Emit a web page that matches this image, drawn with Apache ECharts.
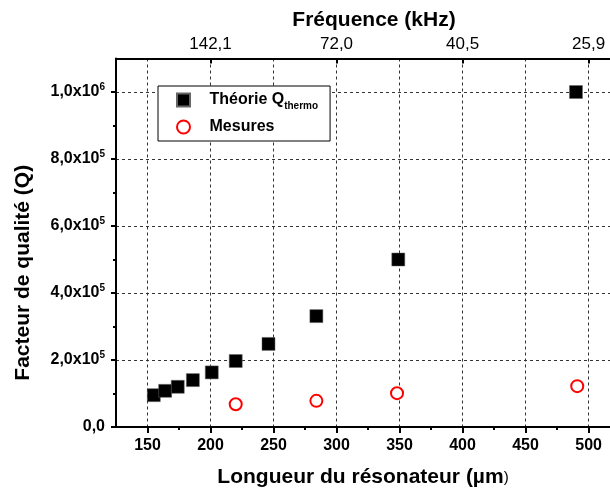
<!DOCTYPE html>
<html>
<head>
<meta charset="utf-8">
<script src="https://cdn.jsdelivr.net/npm/echarts@6/dist/echarts.min.js"></script>
<style>html,body{margin:0;padding:0;background:#fff}#c{width:610px;height:498px}</style>
</head>
<body>
<div id="c"></div>
<script>
// ---- data ----
const thermoLengths = [155, 164, 174, 186, 201, 220, 246, 284, 349, 490];
const thermoQ = [95000, 108000, 120000, 140000, 163000, 197000, 248000, 331000, 500000, 1000000];
const measLengths = [220, 284, 348, 491];
const measQ = [68000, 78000, 101000, 122000];
const bottomMajor = [150, 200, 250, 300, 350, 400, 450, 500];
const bottomMinor = [175, 225, 275, 325, 375, 425, 475];
const topMajor = [200, 300, 400, 500];
const topMinor = [150, 250, 350, 450];
const topLabels = ['142,1', '72,0', '40,5', '25,9'];
const yMajor = [0, 200000, 400000, 600000, 800000, 1000000];
const yMinor = [100000, 300000, 500000, 700000, 900000];
const xMin = 125, xMax = 517, yMin = 0, yMax = 1100000;

const FONT = '"Liberation Sans", Arial, sans-serif';
const black = '#000';

function yFmt(v) {
  if (v === 0) return '{a|0,0}';
  const e = Math.floor(Math.log10(v) + 1e-9);
  const m = (v / Math.pow(10, e)).toFixed(1).replace('.', ',');
  return '{a|' + m + 'x10}{s|' + e + '}';
}

const chart = echarts.init(document.getElementById('c'), null, {renderer: 'canvas'});
const baseX = {type: 'value', min: xMin, max: xMax, gridIndex: 0};
const baseY = {type: 'value', min: yMin, max: yMax, gridIndex: 0};
const dashed = {show: true, lineStyle: {color: '#333', width: 1, type: [3, 3]}};

chart.setOption({
  animation: false,
  backgroundColor: '#fff',
  textStyle: {fontFamily: FONT},
  grid: {left: 116, right: 0, top: 58.5, bottom: 71, containLabel: false},
  legend: {
    orient: 'vertical', left: 158, top: 86,
    backgroundColor: '#fff', borderColor: black, borderWidth: 1,
    padding: [5, 12, 6, 18], itemGap: 8, itemWidth: 42, itemHeight: 13,
    symbolKeepAspect: true,
    data: [
      {name: 'Théorie', icon: 'path://M0,0H10V10H0Z'},
      {name: 'Mesures'}
    ],
    formatter: function (n) { return n === 'Théorie' ? '{a|Théorie Q}{s|thermo}' : '{a|Mesures}'; },
    textStyle: {
      fontFamily: FONT,
      rich: {
        a: {fontSize: 16, fontWeight: 'bold', color: black, fontFamily: FONT, lineHeight: 22},
        s: {fontSize: 10, fontWeight: 'bold', color: black, fontFamily: FONT, verticalAlign: 'bottom', lineHeight: 12, padding: [10, 0, 0, 0]}
      }
    }
  },
  xAxis: [
    Object.assign({}, baseX, {
      position: 'bottom',
      name: '{b|Longueur du résonateur (µm}{c|)}', nameLocation: 'middle', nameGap: 40,
      nameTextStyle: {rich: {
        b: {fontSize: 21, fontWeight: 'bold', color: black, fontFamily: FONT},
        c: {fontSize: 15, color: black, fontFamily: FONT}
      }},
      axisLine: {show: true, onZero: false, lineStyle: {color: black, width: 2}},
      axisTick: {show: true, inside: false, length: 6, customValues: bottomMajor, lineStyle: {color: black, width: 2}},
      axisLabel: {show: true, customValues: bottomMajor, margin: 11, fontSize: 16, fontWeight: 'bold', color: black, fontFamily: FONT},
      splitLine: dashed
    }),
    Object.assign({}, baseX, {
      position: 'bottom',
      axisLine: {show: false},
      axisTick: {show: true, inside: false, length: 3, customValues: bottomMinor, lineStyle: {color: black, width: 2}},
      axisLabel: {show: false},
      splitLine: {show: false}
    }),
    Object.assign({}, baseX, {
      position: 'top',
      name: 'Fréquence (kHz)', nameLocation: 'middle', nameGap: 28,
      nameTextStyle: {fontSize: 21, fontWeight: 'bold', color: black, fontFamily: FONT, padding: [0, 0, 0, 22]},
      axisLine: {show: true, onZero: false, lineStyle: {color: black, width: 2}},
      axisTick: {show: true, inside: true, length: 5, customValues: topMajor, lineStyle: {color: black, width: 2}},
      axisLabel: {show: true, customValues: topMajor, margin: 6, fontSize: 17, color: black, fontFamily: FONT,
        formatter: function (v) { const i = topMajor.indexOf(v); return i >= 0 ? topLabels[i] : ''; }},
      splitLine: {show: false}
    }),
    Object.assign({}, baseX, {
      position: 'top',
      axisLine: {show: false},
      axisTick: {show: true, inside: true, length: 3, customValues: topMinor, lineStyle: {color: black, width: 2}},
      axisLabel: {show: false},
      splitLine: {show: false}
    })
  ],
  yAxis: [
    Object.assign({}, baseY, {
      position: 'left',
      name: 'Facteur de qualité (Q)', nameLocation: 'middle', nameGap: 82, nameRotate: 90,
      nameTextStyle: {fontSize: 21, fontWeight: 'bold', color: black, fontFamily: FONT, padding: [0, 60, 0, 0]},
      axisLine: {show: true, onZero: false, lineStyle: {color: black, width: 2}},
      axisTick: {show: true, inside: false, length: 5, customValues: yMajor, lineStyle: {color: black, width: 2}},
      axisLabel: {show: true, customValues: yMajor, margin: 11, formatter: yFmt,
        rich: {
          a: {fontSize: 16, fontWeight: 'bold', color: black, fontFamily: FONT, lineHeight: 20},
          s: {fontSize: 10, fontWeight: 'bold', color: black, fontFamily: FONT, verticalAlign: 'top', lineHeight: 12}
        }},
      splitLine: dashed
    }),
    Object.assign({}, baseY, {
      position: 'left',
      axisLine: {show: false},
      axisTick: {show: true, inside: false, length: 3, customValues: yMinor, lineStyle: {color: black, width: 2}},
      axisLabel: {show: false},
      splitLine: {show: false}
    })
  ],
  series: [
    {
      name: 'Théorie', type: 'scatter', xAxisIndex: 0, yAxisIndex: 0,
      symbol: 'rect', symbolSize: 13,
      itemStyle: {color: black, borderColor: '#666', borderWidth: 0.5, opacity: 1},
      data: thermoLengths.map((x, i) => [x, thermoQ[i]]), z: 5
    },
    {
      name: 'Mesures', type: 'scatter', xAxisIndex: 0, yAxisIndex: 0,
      symbol: 'circle', symbolSize: 12,
      itemStyle: {color: '#fff', borderColor: '#ff0000', borderWidth: 2, opacity: 1},
      data: measLengths.map((x, i) => [x, measQ[i]]), z: 5
    }
  ]
});
</script>
</body>
</html>
